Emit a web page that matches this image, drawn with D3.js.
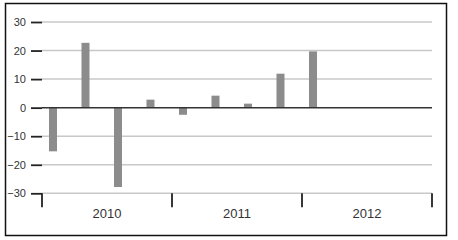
<!DOCTYPE html>
<html>
<head>
<meta charset="utf-8">
<script src="https://cdn.jsdelivr.net/npm/d3@7"></script>
<style>
  body { margin: 0; background: #fff; }
  text { font-family: "Liberation Sans", Arial, sans-serif; fill: #333; }
</style>
</head>
<body>
<div id="chart"></div>
<script>
// Data
const years = ["2010", "2011", "2012"];
const quarters = ["2010Q1", "2010Q2", "2010Q3", "2010Q4",
                  "2011Q1", "2011Q2", "2011Q3", "2011Q4",
                  "2012Q1", "2012Q2", "2012Q3", "2012Q4"];
const values = [-15.3, 22.7, -27.8, 2.8, -2.5, 4.2, 1.4, 11.9, 19.7, null, null, null];
const yTicks = [-30, -20, -10, 0, 10, 20, 30];

const svg = d3.select("#chart").append("svg")
    .attr("width", 458)
    .attr("height", 240);

// Outer frame
svg.append("rect")
    .attr("x", 5.5)
    .attr("y", 3.5)
    .attr("width", 441)
    .attr("height", 232)
    .attr("fill", "none")
    .attr("stroke", "#111")
    .attr("stroke-width", 1.5);

const left = 42, right = 432;

const yScale = d3.scaleLinear()
    .domain([-30, 30])
    .range([193.3, 22]);

const xQuarter = d3.scaleBand()
    .domain(quarters)
    .range([left, right]);

const xYear = d3.scaleBand()
    .domain(years)
    .range([left, right]);

// Gridlines
svg.append("g")
    .selectAll("line")
    .data(yTicks.filter(d => d !== 0))
    .enter()
    .append("line")
    .attr("x1", left)
    .attr("x2", right)
    .attr("y1", d => yScale(d))
    .attr("y2", d => yScale(d))
    .attr("stroke", "#c8c8c8")
    .attr("stroke-width", 1.5);

// Y axis: short ticks and labels, no domain line
const yAxis = svg.append("g")
    .attr("transform", `translate(${left},0)`)
    .call(d3.axisLeft(yScale).tickValues(yTicks).tickSize(11).tickPadding(5));
yAxis.select(".domain").remove();
yAxis.selectAll(".tick line").attr("stroke", "#222").attr("stroke-width", 1.8);
yAxis.selectAll(".tick text")
    .style("font-family", "'Liberation Sans', Arial, sans-serif")
    .style("font-size", "11px")
    .attr("fill", "#333");

// Bars
const barW = 8;
svg.append("g")
    .selectAll("rect")
    .data(quarters.map((q, i) => ({ q: q, v: values[i] })).filter(d => d.v !== null))
    .enter()
    .append("rect")
    .attr("x", d => xQuarter(d.q) + xQuarter.bandwidth() * 0.215)
    .attr("y", d => yScale(Math.max(0, d.v)))
    .attr("width", barW)
    .attr("height", d => Math.abs(yScale(d.v) - yScale(0)))
    .attr("fill", "#8c8c8c");

// Zero line
svg.append("line")
    .attr("x1", left)
    .attr("x2", right)
    .attr("y1", yScale(0))
    .attr("y2", yScale(0))
    .attr("stroke", "#333")
    .attr("stroke-width", 1.5);

// Bottom axis: ticks at year boundaries, labels centred
const bounds = years.map(y => xYear(y)).concat([right]);
svg.append("g")
    .selectAll("line")
    .data(bounds)
    .enter()
    .append("line")
    .attr("x1", d => d)
    .attr("x2", d => d)
    .attr("y1", yScale(-30))
    .attr("y2", yScale(-30) + 14)
    .attr("stroke", "#222")
    .attr("stroke-width", 1.8);

svg.append("g")
    .selectAll("text")
    .data(years)
    .enter()
    .append("text")
    .attr("x", d => xYear(d) + xYear.bandwidth() / 2)
    .attr("y", 218)
    .attr("text-anchor", "middle")
    .style("font-size", "13px")
    .text(d => d);
</script>
</body>
</html>
